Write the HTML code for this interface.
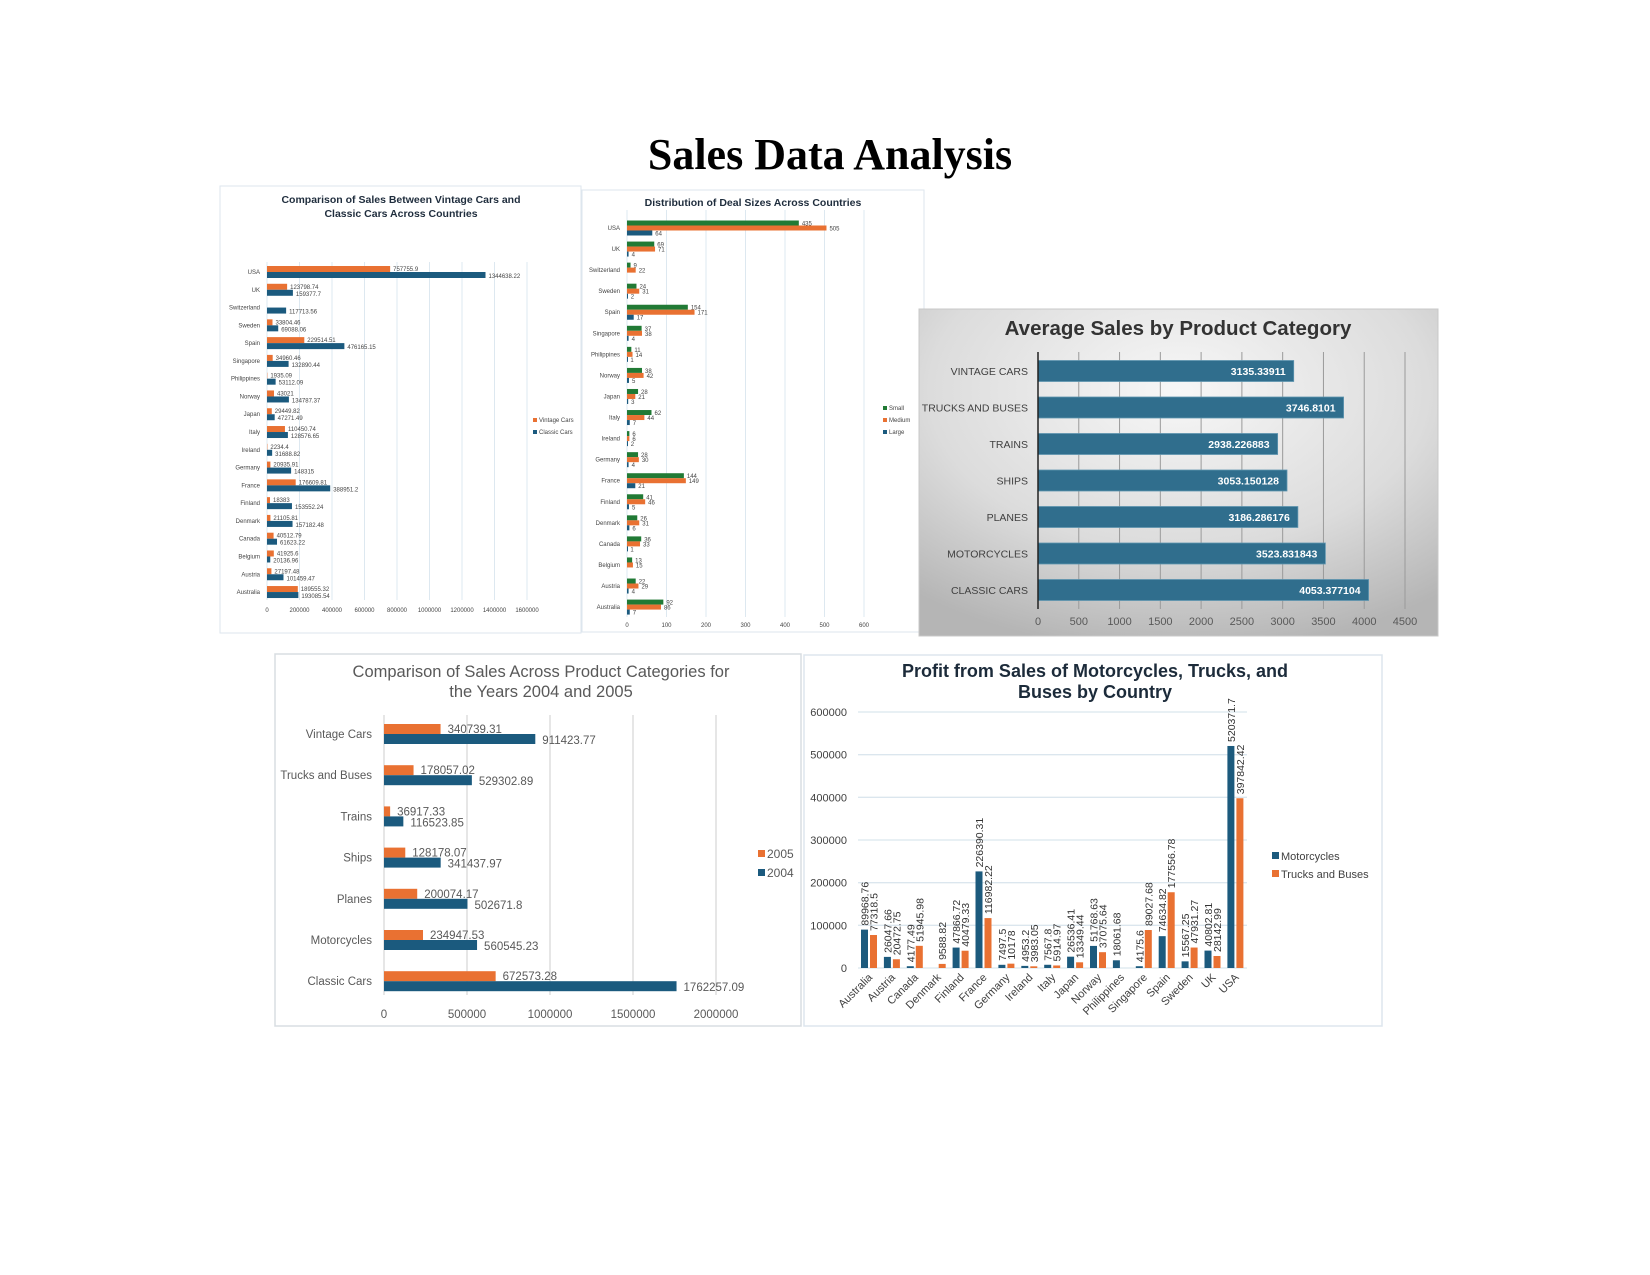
<!DOCTYPE html>
<html><head><meta charset="utf-8"><title>Sales Data Analysis</title>
<style>
html,body{margin:0;padding:0;background:#fff;}
svg{display:block;font-family:"Liberation Sans",sans-serif;}
</style></head>
<body>
<svg id="chart" width="1650" height="1275" viewBox="0 0 1650 1275" xmlns="http://www.w3.org/2000/svg">
<defs>
<radialGradient id="g3" cx="50%" cy="25%" r="80%">
<stop offset="0%" stop-color="#f7f7f7"/><stop offset="60%" stop-color="#dcdcdc"/><stop offset="100%" stop-color="#b5b5b5"/>
</radialGradient>
</defs>
<rect width="1650" height="1275" fill="#fff"/>
<text x="830" y="169" text-anchor="middle" font-family="'Liberation Serif',serif" font-weight="bold" font-size="44" fill="#000">Sales Data Analysis</text>

<!-- panels -->
<rect x="220" y="186" width="361" height="447" fill="#fff" stroke="#dde6ee"/>
<rect x="582" y="190" width="342" height="442" fill="#fff" stroke="#dde6ee"/>
<rect x="919" y="309" width="519" height="327" fill="url(#g3)" stroke="#c8c8c8"/>
<rect x="275" y="654" width="526" height="372" fill="#fff" stroke="#d8dde2" stroke-width="1.5"/>
<rect x="804" y="655" width="578" height="371" fill="#fff" stroke="#dde6ee" stroke-width="1.5"/>

<!-- titles -->
<text x="401" y="203" text-anchor="middle" font-size="10.5" font-weight="bold" fill="#1f2d3d">Comparison of Sales Between Vintage Cars and</text>
<text x="401" y="217" text-anchor="middle" font-size="10.5" font-weight="bold" fill="#1f2d3d">Classic Cars Across Countries</text>
<text x="753" y="206" text-anchor="middle" font-size="10.5" font-weight="bold" fill="#1f2d3d">Distribution of Deal Sizes Across Countries</text>
<text x="1178" y="335" text-anchor="middle" font-size="20.5" font-weight="bold" fill="#333">Average Sales by Product Category</text>
<text x="541" y="677" text-anchor="middle" font-size="16.5" fill="#595959">Comparison of Sales Across Product Categories for</text>
<text x="541" y="697" text-anchor="middle" font-size="16.5" fill="#595959">the Years 2004 and 2005</text>
<text x="1095" y="677" text-anchor="middle" font-size="18" font-weight="bold" fill="#1c2b3a">Profit from Sales of Motorcycles, Trucks, and</text>
<text x="1095" y="698" text-anchor="middle" font-size="18" font-weight="bold" fill="#1c2b3a">Buses by Country</text>

<!-- legends -->
<g font-size="6" fill="#444">
<rect x="533" y="418" width="4" height="4" fill="#e97132"/><text x="539" y="422">Vintage Cars</text>
<rect x="533" y="430" width="4" height="4" fill="#1b5a7e"/><text x="539" y="434">Classic Cars</text>
</g>
<g font-size="6" fill="#444">
<rect x="883" y="406" width="4" height="4" fill="#217a35"/><text x="889" y="410">Small</text>
<rect x="883" y="418" width="4" height="4" fill="#e97132"/><text x="889" y="422">Medium</text>
<rect x="883" y="430" width="4" height="4" fill="#1b5a7e"/><text x="889" y="434">Large</text>
</g>
<g font-size="12" fill="#595959">
<rect x="758" y="850" width="7" height="7" fill="#e97132"/><text x="767" y="858">2005</text>
<rect x="758" y="869" width="7" height="7" fill="#1b5a7e"/><text x="767" y="877">2004</text>
</g>
<g font-size="11" fill="#404040">
<rect x="1272" y="852" width="7" height="7" fill="#1c5a7d"/><text x="1281" y="860">Motorcycles</text>
<rect x="1272" y="870" width="7" height="7" fill="#e97132"/><text x="1281" y="878">Trucks and Buses</text>
</g>
</svg>
<script>
// ===== Chart 1 data =====
const c1Countries = ["USA","UK","Switzerland","Sweden","Spain","Singapore","Philippines","Norway","Japan","Italy","Ireland","Germany","France","Finland","Denmark","Canada","Belgium","Austria","Australia"];
const c1Vintage = [757755.9,123798.74,0,33804.46,229514.51,34960.46,1935.09,43021,29449.82,110450.74,2234.4,20935.91,176609.81,18383,21105.81,40512.79,41925.6,27197.48,189555.32];
const c1Classic = [1344638.22,159377.7,117713.56,69088.06,476165.15,132890.44,53112.09,134787.37,47271.49,128576.65,31688.82,148315,388951.2,153552.24,157182.48,61623.22,20136.96,101459.47,193085.54];
const c1Ticks = [0,200000,400000,600000,800000,1000000,1200000,1400000,1600000];
// ===== Chart 2 data =====
const c2Countries = ["USA","UK","Switzerland","Sweden","Spain","Singapore","Philippines","Norway","Japan","Italy","Ireland","Germany","France","Finland","Denmark","Canada","Belgium","Austria","Australia"];
const c2Small = [435,69,9,24,154,37,11,38,28,62,6,28,144,41,26,36,13,22,92];
const c2Medium = [505,71,22,31,171,38,14,42,21,44,6,30,149,46,31,33,15,29,86];
const c2Large = [64,4,0,2,17,4,1,5,3,7,2,4,21,5,6,1,0,4,7];
const c2Ticks = [0,100,200,300,400,500,600];
// ===== Chart 3 data =====
const c3Categories = ["VINTAGE CARS","TRUCKS AND BUSES","TRAINS","SHIPS","PLANES","MOTORCYCLES","CLASSIC CARS"];
const c3Values = [3135.33911,3746.8101,2938.226883,3053.150128,3186.286176,3523.831843,4053.377104];
const c3Ticks = [0,500,1000,1500,2000,2500,3000,3500,4000,4500];
// ===== Chart 4 data =====
const c4Categories = ["Vintage Cars","Trucks and Buses","Trains","Ships","Planes","Motorcycles","Classic Cars"];
const c4Y2005 = [340739.31,178057.02,36917.33,128178.07,200074.17,234947.53,672573.28];
const c4Y2004 = [911423.77,529302.89,116523.85,341437.97,502671.8,560545.23,1762257.09];
const c4Ticks = [0,500000,1000000,1500000,2000000];
// ===== Chart 5 data =====
const c5Countries = ["Australia","Austria","Canada","Denmark","Finland","France","Germany","Ireland","Italy","Japan","Norway","Philippines","Singapore","Spain","Sweden","UK","USA"];
const c5Moto = [89968.76,26047.66,4177.49,0,47866.72,226390.31,7497.5,4953.2,7567.8,26536.41,51768.63,18061.68,4175.6,74634.82,15567.25,40802.81,520371.7];
const c5Trucks = [77318.5,20472.75,51945.98,9588.82,40479.33,116982.22,10178,3983.05,5914.97,13349.44,37075.64,0,89027.68,177556.78,47931.27,28142.99,397842.42];
const c5Ticks = [0,100000,200000,300000,400000,500000,600000];

const NS = "http://www.w3.org/2000/svg";
const svg = document.getElementById('chart');
function mk(tag, attrs, txt){
  const e = document.createElementNS(NS, tag);
  for (const k in attrs) e.setAttribute(k, attrs[k]);
  if (txt !== undefined) e.textContent = txt;
  svg.appendChild(e);
  return e;
}
const ORANGE = "#e97132", BLUE = "#1b5a7e", GREEN = "#217a35";

// ---------- Chart 1 ----------
(function(){
  const x = v => 267 + v * 32.5 / 200000;
  const y = i => 272 + i * 17.78;
  c1Ticks.forEach(t => {
    let g = mk('line', {x1:x(t), x2:x(t), y1:262, y2:600, stroke:'#dde8f0', 'stroke-width':1});
    
    
    let l = mk('text', {x:x(t), y:612, 'text-anchor':'middle', 'font-size':6, fill:'#444'}, String(t));
    
    
  });
  c1Countries.forEach((c, i) => {
    const cy = y(i);
    let cl = mk('text', {x:260, y:cy+2, 'text-anchor':'end', 'font-size':6, fill:'#444'}, c);
    
    
    if (c1Vintage[i] > 0) {
      let b = mk('rect', {x:x(0), y:cy-6, width:x(c1Vintage[i])-x(0), height:6, fill:ORANGE});
      
      
      let t = mk('text', {x:x(c1Vintage[i])+3, y:cy-1, 'font-size':6, fill:'#444'}, String(c1Vintage[i]));
      
      
    }
    let b2 = mk('rect', {x:x(0), y:cy, width:x(c1Classic[i])-x(0), height:6, fill:BLUE});
    
    
    let t2 = mk('text', {x:x(c1Classic[i])+3, y:cy+6, 'font-size':6, fill:'#444'}, String(c1Classic[i]));
    
    
  });
})();

// ---------- Chart 2 ----------
(function(){
  const x = v => 627 + v * 0.395;
  const y = i => 228 + i * 21.06;
  c2Ticks.forEach(t => {
    let g = mk('line', {x1:x(t), x2:x(t), y1:210, y2:617, stroke:'#dde8f0', 'stroke-width':1});
    
    
    let l = mk('text', {x:x(t), y:627, 'text-anchor':'middle', 'font-size':6, fill:'#444'}, String(t));
    
    
  });
  c2Countries.forEach((c, i) => {
    const cy = y(i);
    let cl = mk('text', {x:620, y:cy+2, 'text-anchor':'end', 'font-size':6, fill:'#444'}, c);
    
    
    const series = [[c2Small, GREEN, -7.5, 'c2-small'], [c2Medium, ORANGE, -2.5, 'c2-medium'], [c2Large, BLUE, 2.5, 'c2-large']];
    series.forEach(s => {
      const v = s[0][i];
      if (v <= 0) return;
      let b = mk('rect', {x:x(0), y:cy+s[2], width:Math.max(1, x(v)-x(0)), height:5, fill:s[1]});
      
      
      let t = mk('text', {x:x(v)+3, y:cy+s[2]+5, 'font-size':6, fill:'#444'}, String(v));
      
      
    });
  });
})();

// ---------- Chart 3 ----------
(function(){
  const x = v => 1038 + v * 367 / 4500;
  const y = i => 371 + i * 36.5;
  c3Ticks.forEach(t => {
    if (t > 0) {
      let g = mk('line', {x1:x(t), x2:x(t), y1:352, y2:609, stroke:'#9a9a9a', 'stroke-width':1});
      
      
    }
    let l = mk('text', {x:x(t), y:625, 'text-anchor':'middle', 'font-size':11, fill:'#595959'}, String(t));
    
    
  });
  c3Categories.forEach((c, i) => {
    const cy = y(i);
    let cl = mk('text', {x:1028, y:cy+4, 'text-anchor':'end', 'font-size':10.5, fill:'#404040'}, c);
    
    
    let b = mk('rect', {x:x(0), y:cy-10.5, width:x(c3Values[i])-x(0), height:21, fill:'#306e8d', stroke:'#5f95b0', 'stroke-width':0.8});
    
    
    let t = mk('text', {x:x(c3Values[i])-8, y:cy+4, 'text-anchor':'end', 'font-size':10.5, 'font-weight':'bold', fill:'#fff'}, String(c3Values[i]));
    
    
  });
  let ax = mk('line', {x1:1038, x2:1038, y1:352, y2:609, stroke:'#222', 'stroke-width':1.5});
  
  
})();

// ---------- Chart 4 ----------
(function(){
  const x = v => 384 + v * 166 / 1000000;
  const y = i => 734 + i * 41.2;
  c4Ticks.forEach(t => {
    let g = mk('line', {x1:x(t), x2:x(t), y1:715, y2:995, stroke:'#d9d9d9', 'stroke-width':1.3});
    
    
    let l = mk('text', {x:x(t), y:1018, 'text-anchor':'middle', 'font-size':11.5, fill:'#595959'}, String(t));
    
    
  });
  c4Categories.forEach((c, i) => {
    const cy = y(i);
    let cl = mk('text', {x:372, y:cy+4, 'text-anchor':'end', 'font-size':11.5, fill:'#595959'}, c);
    
    
    let b = mk('rect', {x:x(0), y:cy-10, width:x(c4Y2005[i])-x(0), height:10, fill:ORANGE});
    
    
    let t = mk('text', {x:x(c4Y2005[i])+7, y:cy-1, 'font-size':11.5, fill:'#595959'}, String(c4Y2005[i]));
    
    
    let b2 = mk('rect', {x:x(0), y:cy, width:x(c4Y2004[i])-x(0), height:10, fill:BLUE});
    
    
    let t2 = mk('text', {x:x(c4Y2004[i])+7, y:cy+10, 'font-size':11.5, fill:'#595959'}, String(c4Y2004[i]));
    
    
  });
})();

// ---------- Chart 5 ----------
(function(){
  const y = v => 968 - v * 256 / 600000;
  const x = i => 869 + i * 22.9;
  c5Ticks.forEach(t => {
    let g = mk('line', {x1:858, x2:1247, y1:y(t), y2:y(t), stroke:'#dbe6ee', 'stroke-width':1.3});
    
    
    let l = mk('text', {x:847, y:y(t)+4, 'text-anchor':'end', 'font-size':11, fill:'#404040'}, String(t));
    
    
  });
  c5Countries.forEach((c, i) => {
    const cx = x(i);
    const pairs = [[c5Moto[i], '#1c5a7d', cx-8, 'c5-motorcycles'], [c5Trucks[i], ORANGE, cx+1, 'c5-trucks']];
    pairs.forEach(p => {
      const v = p[0];
      if (v <= 0) return;
      let b = mk('rect', {x:p[2], y:y(v), width:7, height:968-y(v), fill:p[1]});
      
      
      const tx = p[2] + 7.5, ty = y(v) - 4;
      let t = mk('text', {x:tx, y:ty, 'font-size':10.5, fill:'#333', transform:'rotate(-90 ' + tx + ' ' + ty + ')'}, String(v));
      
      
    });
    const lx = cx + 4, ly = 978;
    let cl = mk('text', {x:lx, y:ly, 'text-anchor':'end', 'font-size':11, fill:'#404040', transform:'rotate(-45 ' + lx + ' ' + ly + ')'}, c);
    
    
  });
})();
</script>
</body></html>
